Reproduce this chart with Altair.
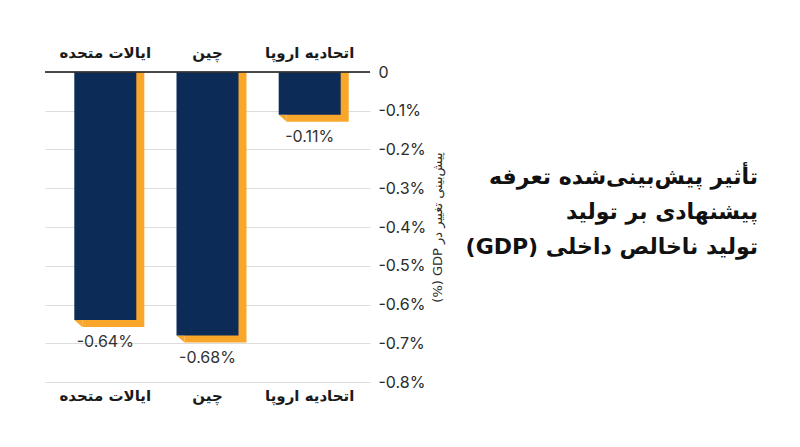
import altair as alt
import pandas as pd

# data
countries = ["ایالات متحده", "چین", "اتحادیه اروپا"]
gdp_change = [-0.64, -0.68, -0.11]
value_labels = ["-0.64%", "-0.68%", "-0.11%"]
y_ticks = [0, -0.1, -0.2, -0.3, -0.4, -0.5, -0.6, -0.7, -0.8]

# LTR-ordered so that the browser's bidi pass shows them like the original
title_lines = ["تأثیر پیش‌بینی‌شده تعرفه", "پیشنهادی بر تولید", "(GDP) تولید ناخالص داخلی"]
axis_title = "(%) GDP پیش‌بینی تغییر در"

NAVY = "#0c2b56"
ORANGE = "#f9a72b"
LATIN = "Inter, DejaVu Sans"
PERSIAN = "DejaVu Sans"

df = pd.DataFrame({"country": countries, "value": gdp_change, "label": value_labels})

x_scale = alt.Scale(domain=countries, paddingInner=0, paddingOuter=0.09)
y_scale = alt.Scale(domain=[-0.8, 0], nice=False)

# same axis object on every layer so Vega-Lite merges them into one
y_axis = alt.Axis(orient="right", values=y_ticks, domain=False, ticks=False,
                  labelExpr="datum.value == 0 ? '0' : datum.value + '%'",
                  labelFont=LATIN, labelFontSize=16, labelColor="#2b2b2b",
                  labelPadding=8, gridColor="#dddddd",
                  title=axis_title, titleAngle=270, titleFont=PERSIAN,
                  titleFontSize=13, titleFontWeight="normal",
                  titleColor="#2b2b2b", titlePadding=19)

y_val = alt.Y("value:Q", scale=y_scale, axis=y_axis)
y_zero = alt.YDatum(0, scale=y_scale, axis=y_axis)
y2_zero = alt.Y2Datum(0)

base = alt.Chart(df)

# orange "extrusion" behind each bar
shadow = base.mark_bar(size=62, color=ORANGE, xOffset=8, yOffset=7).encode(
    x=alt.X("country:N", scale=x_scale, sort=countries,
            axis=alt.Axis(orient="bottom", title=None, labelAngle=0, domain=False,
                          ticks=False, labelFont=PERSIAN, labelFontSize=15,
                          labelFontWeight="bold", labelColor="#1a1a1a",
                          labelPadding=6)),
    y=y_val,
    y2=y2_zero,
)

corner_top = base.mark_point(shape="M-1,-0.875L-1,0.875L1,0.875Z", size=64, filled=True,
                             opacity=1, strokeWidth=0, color=ORANGE,
                             xOffset=35, yOffset=3.5).encode(
    x=alt.X("country:N", scale=x_scale, sort=countries, axis=None),
    y=y_zero,
)

corner_bottom = base.mark_point(shape="M-1,-0.875L1,-0.875L1,0.875Z", size=64, filled=True,
                                opacity=1, strokeWidth=0, color=ORANGE,
                                xOffset=-27, yOffset=3.5).encode(
    x=alt.X("country:N", scale=x_scale, sort=countries, axis=None),
    y=y_val,
)

bars = base.mark_bar(size=62, color=NAVY).encode(
    x=alt.X("country:N", scale=x_scale, sort=countries, axis=None),
    y=y_val,
    y2=y2_zero,
)

zero_rule = base.mark_rule(color="#333333", strokeWidth=1.2).encode(
    y=y_zero,
)

values = base.mark_text(font=LATIN, fontSize=16, color="#333333", dy=22,
                        baseline="middle").encode(
    x=alt.X("country:N", scale=x_scale, sort=countries,
            axis=alt.Axis(orient="top", title=None, labelAngle=0, domain=False,
                          ticks=False, labelFont=PERSIAN, labelFontSize=15,
                          labelFontWeight="bold", labelColor="#1a1a1a",
                          labelPadding=12)),
    y=y_val,
    text="label:N",
)

title_layers = []
for i, line in enumerate(title_lines):
    title_layers.append(
        alt.Chart(pd.DataFrame({"t": [line]})).mark_text(
            font=PERSIAN, fontSize=22, fontWeight="bold", color="#111111",
            align="right", baseline="middle",
        ).encode(text="t:N", x=alt.value(713), y=alt.value(105 + 35 * i))
    )

chart = alt.layer(
    shadow, corner_top, corner_bottom, bars, zero_rule, values, *title_layers
).resolve_axis(
    x="independent"
).properties(
    width=325,
    height=310,
    padding={"left": 36, "top": 37, "right": 5, "bottom": 5},
).configure_view(
    strokeWidth=0
)

chart.save("out.html", embed_options={"renderer": "svg", "actions": False})
